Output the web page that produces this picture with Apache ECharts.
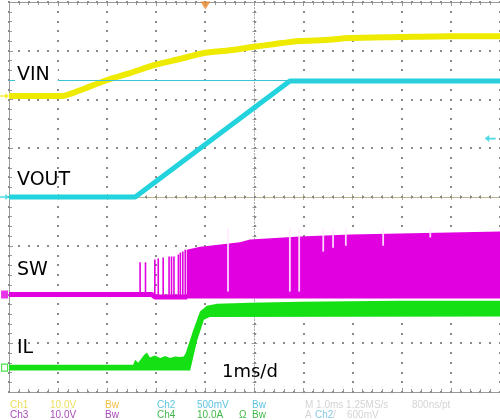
<!DOCTYPE html>
<html>
<head>
<meta charset="utf-8">
<script src="https://cdn.jsdelivr.net/npm/echarts@6/dist/echarts.min.js"></script>
<style>
  html, body { margin: 0; padding: 0; background: #ffffff; }
  #scope { width: 500px; height: 420px; }
</style>
</head>
<body>
<div id="scope"></div>
<script>
// Start-up capture: time in ms relative to the trigger (1 ms/div, screen spans -4 … +6 ms)

// Ch1 – VIN (V)
const vinT = [-4, -2.92, -2.55, -2.0, -1.54, -1.03, -0.52, -0.05, 0.5, 0.91, 1.42, 1.93, 2.43, 2.94, 3.96, 4.98, 6.0];
const vinV = [0, 0, 1.2, 3.3, 4.7, 6.4, 7.6, 8.8, 9.4, 10.0, 10.7, 11.3, 11.5, 11.9, 12.1, 12.3, 12.3];

// Ch2 – VOUT (V)
const voutT = [-4, -1.43, 1.72, 6.0];
const voutV = [0, 0, 1.19, 1.19];
const voutCursor = 1.2;      // horizontal cursor level
const trigLevel = 0.6;       // trigger level, Ch2 rising edge

// Ch3 – SW node (V): idle level, isolated pulses, then continuous switching envelope
const swBaseT = [-4, -1.09, -1.03, -0.37];
const swBaseV = [0, 0, -0.5, -0.5];
const swPulseT = [-1.33, -1.22, -1.03, -0.96, -0.86, -0.74, -0.69, -0.64, -0.55, -0.51, -0.46, -0.41];
const swPulseV = [6.6, 6.6, 7.2, 7.4, 7.6, 7.8, 7.8, 7.8, 8.2, 8.6, 8.8, 9.2];
const swHiT = [-0.38, -0.11, 0.09, 0.7, 0.91, 1.93, 2.95, 3.96, 4.98, 6.0];
const swHiV = [9.2, 9.8, 10.0, 10.7, 11.3, 11.9, 12.3, 12.5, 12.7, 12.9];
const swLoT = [-0.38, 6.0];
const swLoV = [-0.8, -0.8];
// skipped pulses (where the switching stops briefly), lowest level reached
const swSkipT = [0.46, 1.72, 1.91, 2.40, 2.60, 2.86, 3.62, 4.58];
const swSkipV = [0.6, 0.6, 0.6, 8.8, 9.6, 10.0, 10.0, 11.7];

// Ch4 – IL (A): upper and lower envelope of the inductor current
const ilHiT = [-4, -1.47, -1.43, -1.37, -1.25, -1.19, -1.13, -1.03, -0.92, -0.82, -0.72, -0.62, -0.52, -0.44, -0.40, -0.25, -0.11, 0.03, 0.24, 0.91, 1.93, 3.96, 6.0];
const ilHiV = [0.6, 0.6, 1.6, 1.0, 2.6, 3.1, 2.1, 2.5, 2.0, 2.4, 2.0, 2.3, 2.2, 2.3, 3.0, 7.6, 11.5, 12.7, 13.1, 13.3, 13.5, 13.7, 13.7];
const ilLoT = [-4, -0.31, -0.17, -0.03, 0.09, 6.0];
const ilLoV = [-0.6, -0.6, 5.5, 9.8, 10.4, 10.5];

// Vertical settings: units per division and ground offset (divisions from centre)
const chPerDiv = [10, 0.5, 10, 10];
const chGround = [2.07, 0, -2.0, -3.5];

// Graticule: 10 x 8 divisions, 5 subdivisions each
const divX = [-5, -4, -3, -2, -1, 0, 1, 2, 3, 4, 5];
const divY = [-4, -3, -2, -1, 0, 1, 2, 3, 4];
const SUB = 5;

const COL = { ch1: '#eeea00', ch2: '#22d2dc', ch3: '#e000e0', ch4: '#14e014' };
const gridC = '#9a9a9a';
const dotC = '#8a8a8a';
const axisC = '#bdb391';

const zip = (a, b) => a.map((v, i) => [v, b[i]]);
const RECT = { left: 9, top: 2, width: 491, height: 390 };

function chAxis(i) {
  return {
    type: 'value', show: false, gridIndex: 3,
    min: (-4 - chGround[i]) * chPerDiv[i],
    max: (4 - chGround[i]) * chPerDiv[i]
  };
}

function frameAxis(extra) {
  return Object.assign({
    type: 'value', gridIndex: 0,
    axisLabel: { show: false },
    axisLine: { show: true, onZero: false, lineStyle: { color: gridC, width: 1 } },
    axisTick: { show: true, inside: true, length: 4, lineStyle: { color: gridC } },
    minorTick: { show: true, splitNumber: SUB, length: 3, lineStyle: { color: gridC } },
    splitLine: { show: false }
  }, extra);
}

function centreAxis(extra, grid, inside, lineStyle) {
  return Object.assign({
    type: 'value', gridIndex: grid,
    axisLabel: { show: false },
    axisLine: { show: true, onZero: true, lineStyle: lineStyle },
    axisTick: { show: true, inside: inside, length: 3, lineStyle: { color: lineStyle.color } },
    minorTick: { show: true, splitNumber: SUB, length: 2, lineStyle: { color: lineStyle.color } },
    splitLine: { show: false }
  }, extra);
}
const hCentre = { color: axisC, width: 1 };
const vCentre = { color: '#a8a8a8', width: 1, type: [1, 2.25] };

// dotted graticule line: one dot per subdivision along a division line
function graticuleRender(params, api) {
  const vertical = api.value(0) === 0;
  const pos = api.value(1);
  const lo = vertical ? divY[0] : divX[0];
  const hi = vertical ? divY[divY.length - 1] : divX[divX.length - 1];
  const n = Math.round((hi - lo) * SUB);
  const kids = [];
  for (let k = 0; k <= n; k++) {
    const s = lo + k / SUB;
    const p = api.coord(vertical ? [pos, s] : [s, pos]);
    kids.push({ type: 'rect', shape: { x: Math.round(p[0]) - 1, y: Math.round(p[1]) - 1, width: 2, height: 2 },
                style: { fill: dotC } });
  }
  return { type: 'group', children: kids };
}
const graticuleData = divX.map(x => [0, x]).concat(divY.map(y => [1, y]));

// filled envelope drawn as one polygon through the axis scales
function bandRender(hiT, hiV, loT, loV, color) {
  return function (params, api) {
    if (params.dataIndex !== 0) return null;
    const pts = [];
    for (let i = 0; i < hiT.length; i++) pts.push(api.coord([hiT[i], hiV[i]]));
    for (let i = loT.length - 1; i >= 0; i--) pts.push(api.coord([loT[i], loV[i]]));
    return { type: 'polygon', shape: { points: pts }, style: { fill: color } };
  };
}

// vertical stroke from value(2) up to value(1) at time value(0)
function strokeRender(color, width) {
  return function (params, api) {
    const a = api.coord([api.value(0), api.value(2)]);
    const b = api.coord([api.value(0), api.value(1)]);
    return { type: 'line', shape: { x1: a[0], y1: a[1], x2: b[0], y2: b[1] },
             style: { stroke: color, lineWidth: width } };
  };
}

const arrowRight = 'path://M0,3 L7,3 L7,0 L12,4 L7,8 L7,5 L0,5 Z';
const arrowLeft = 'path://M0,4 L5,0 L5,3 L12,3 L12,5 L5,5 L5,8 Z';
const tLeftMark = -4.09;

const option = {
  animation: false,
  grid: [
    Object.assign({}, RECT),   // 0: frame and graticule
    Object.assign({}, RECT),   // 1: centre cross, ticks on one side
    Object.assign({}, RECT),   // 2: centre cross, ticks on other side
    Object.assign({}, RECT)    // 3: channel traces
  ],
  xAxis: [
    frameAxis({ min: -5, max: 5, interval: 1, position: 'bottom' }),
    frameAxis({ min: -5, max: 5, interval: 1, position: 'top' }),
    centreAxis({ min: -5, max: 5, interval: 1, position: 'bottom' }, 1, true, hCentre),
    centreAxis({ min: -5, max: 5, interval: 1, position: 'bottom' }, 2, false, hCentre),
    { type: 'value', gridIndex: 3, min: -4, max: 6, show: false }
  ],
  yAxis: [
    frameAxis({ min: -4, max: 4, interval: 1, position: 'left' }),
    centreAxis({ min: -4, max: 4, interval: 1, position: 'left' }, 1, true, vCentre),
    centreAxis({ min: -4, max: 4, interval: 1, position: 'left' }, 2, false, vCentre),
    chAxis(0), chAxis(1), chAxis(2), chAxis(3),
    { type: 'value', gridIndex: 3, min: -4, max: 4, show: false }
  ],
  series: [
    // graticule dots
    {
      type: 'custom', xAxisIndex: 0, yAxisIndex: 0,
      data: graticuleData, renderItem: graticuleRender
    },
    // Ch2 VOUT
    {
      type: 'line', xAxisIndex: 4, yAxisIndex: 4, data: zip(voutT, voutV),
      symbol: 'none', lineStyle: { color: COL.ch2, width: 5 }, z: 3,
      markLine: {
        silent: true, symbol: 'none', label: { show: false },
        lineStyle: { color: '#3cc4d4', width: 1, type: 'solid' },
        data: [{ yAxis: voutCursor }]
      }
    },
    // Ch1 VIN
    {
      type: 'line', xAxisIndex: 4, yAxisIndex: 3, data: zip(vinT, vinV),
      symbol: 'none', smooth: 0.25,
      lineStyle: { color: COL.ch1, width: 6 }, z: 4
    },
    // Ch3 SW idle level
    {
      type: 'line', xAxisIndex: 4, yAxisIndex: 5, data: zip(swBaseT, swBaseV),
      symbol: 'none', lineStyle: { color: COL.ch3, width: 5 }, z: 5
    },
    // Ch3 isolated pulses
    {
      type: 'custom', xAxisIndex: 4, yAxisIndex: 5, z: 5,
      data: swPulseT.map((t, i) => [t, swPulseV[i], -0.5]),
      renderItem: strokeRender(COL.ch3, 1.6)
    },
    // Ch3 continuous switching
    {
      type: 'custom', xAxisIndex: 4, yAxisIndex: 5, z: 5,
      data: zip(swHiT, swHiV),
      renderItem: bandRender(swHiT, swHiV, swLoT, swLoV, COL.ch3)
    },
    // Ch3 skipped pulses
    {
      type: 'custom', xAxisIndex: 4, yAxisIndex: 5, z: 5,
      data: swSkipT.map((t, i) => [t, 13.5, swSkipV[i]]),
      renderItem: strokeRender('rgba(255,235,255,0.9)', 1.8)
    },
    // Ch4 IL
    {
      type: 'custom', xAxisIndex: 4, yAxisIndex: 6, z: 6,
      data: zip(ilHiT, ilHiV),
      renderItem: bandRender(ilHiT, ilHiV, ilLoT, ilLoV, COL.ch4)
    },
    // ground markers on the left edge
    { type: 'scatter', xAxisIndex: 4, yAxisIndex: 3, clip: false, z: 7, data: [[tLeftMark, 0]],
      symbol: arrowRight, symbolSize: [9, 6], itemStyle: { color: COL.ch1 } },
    { type: 'scatter', xAxisIndex: 4, yAxisIndex: 4, clip: false, z: 7, data: [[tLeftMark, 0]],
      symbol: arrowRight, symbolSize: [9, 6], itemStyle: { color: COL.ch2 } },
    { type: 'scatter', xAxisIndex: 4, yAxisIndex: 5, clip: false, z: 7, data: [[tLeftMark, 0]],
      symbol: 'rect', symbolSize: [7, 8], itemStyle: { color: COL.ch3 } },
    { type: 'scatter', xAxisIndex: 4, yAxisIndex: 6, clip: false, z: 7, data: [[tLeftMark, 0]],
      symbol: 'rect', symbolSize: [6, 7], itemStyle: { color: '#ffffff', borderColor: COL.ch4, borderWidth: 1.2 } },
    // trigger level arrow (Ch2)
    { type: 'scatter', xAxisIndex: 4, yAxisIndex: 4, clip: false, z: 7, data: [[5.8, trigLevel]],
      symbol: arrowLeft, symbolSize: [11, 7], itemStyle: { color: COL.ch2 } },
    // trigger position
    { type: 'scatter', xAxisIndex: 4, yAxisIndex: 7, clip: false, z: 7, data: [[0, 3.93]],
      symbol: 'triangle', symbolRotate: 180, symbolSize: [10, 8], itemStyle: { color: '#e8882a' } }
  ],
  graphic: [
    { type: 'text', x: 15, y: 75, z: 20, style: { text: 'VIN', font: '19px "DejaVu Sans"', fill: '#000', verticalAlign: 'middle', backgroundColor: '#ffffff', padding: [2, 8, 2, 2] } },
    { type: 'text', x: 17, y: 180, z: 20, style: { text: 'VOUT', font: '19px "DejaVu Sans"', fill: '#000', verticalAlign: 'middle' } },
    { type: 'text', x: 17, y: 270, z: 20, style: { text: 'SW', font: '19px "DejaVu Sans"', fill: '#000', verticalAlign: 'middle' } },
    { type: 'text', x: 17, y: 348, z: 20, style: { text: 'IL', font: '19px "DejaVu Sans"', fill: '#000', verticalAlign: 'middle' } },
    { type: 'text', x: 222, y: 372, z: 20, style: { text: '1ms/d', font: '18px "DejaVu Sans"', fill: '#000', verticalAlign: 'middle' } },

    { type: 'text', x: 10, y: 405, style: { text: 'Ch1', font: '10px "Liberation Sans"', fill: '#ece060', verticalAlign: 'middle' } },
    { type: 'text', x: 50, y: 405, style: { text: '10.0V', font: '10px "Liberation Sans"', fill: '#ece060', verticalAlign: 'middle' } },
    { type: 'text', x: 105, y: 405, style: { text: 'Bw', font: '10px "Liberation Sans"', fill: '#f0c040', verticalAlign: 'middle' } },
    { type: 'text', x: 157, y: 405, style: { text: 'Ch2', font: '10px "Liberation Sans"', fill: '#60c4e0', verticalAlign: 'middle' } },
    { type: 'text', x: 197, y: 405, style: { text: '500mV', font: '10px "Liberation Sans"', fill: '#60c4e0', verticalAlign: 'middle' } },
    { type: 'text', x: 252, y: 405, style: { text: 'Bw', font: '10px "Liberation Sans"', fill: '#60c4e0', verticalAlign: 'middle' } },
    { type: 'text', x: 305, y: 405, style: { text: 'M 1.0ms 1.25MS/s', font: '10px "Liberation Sans"', fill: '#d4d4d4', verticalAlign: 'middle' } },
    { type: 'text', x: 412, y: 405, style: { text: '800ns/pt', font: '10px "Liberation Sans"', fill: '#d4d4d4', verticalAlign: 'middle' } },

    { type: 'text', x: 10, y: 415, style: { text: 'Ch3', font: '10px "Liberation Sans"', fill: '#a84cb8', verticalAlign: 'middle' } },
    { type: 'text', x: 50, y: 415, style: { text: '10.0V', font: '10px "Liberation Sans"', fill: '#a84cb8', verticalAlign: 'middle' } },
    { type: 'text', x: 105, y: 415, style: { text: 'Bw', font: '10px "Liberation Sans"', fill: '#a84cb8', verticalAlign: 'middle' } },
    { type: 'text', x: 157, y: 415, style: { text: 'Ch4', font: '10px "Liberation Sans"', fill: '#40b848', verticalAlign: 'middle' } },
    { type: 'text', x: 197, y: 415, style: { text: '10.0A', font: '10px "Liberation Sans"', fill: '#40b848', verticalAlign: 'middle' } },
    { type: 'text', x: 239, y: 415, style: { text: 'Ω', font: '10px "Liberation Sans"', fill: '#40b848', verticalAlign: 'middle' } },
    { type: 'text', x: 252, y: 415, style: { text: 'Bw', font: '10px "Liberation Sans"', fill: '#40b848', verticalAlign: 'middle' } },
    { type: 'text', x: 305, y: 415, style: { text: 'A', font: '10px "Liberation Sans"', fill: '#d4d4d4', verticalAlign: 'middle' } },
    { type: 'text', x: 315, y: 415, style: { text: 'Ch2', font: '10px "Liberation Sans"', fill: '#88c8e4', verticalAlign: 'middle' } },
    { type: 'text', x: 333, y: 415, style: { text: '/', font: '10px "Liberation Sans"', fill: '#d4d4d4', verticalAlign: 'middle' } },
    { type: 'text', x: 347, y: 415, style: { text: '600mV', font: '10px "Liberation Sans"', fill: '#d4d4d4', verticalAlign: 'middle' } }
  ]
};

const chart = echarts.init(document.getElementById('scope'), null, { renderer: 'canvas' });
chart.setOption(option);
</script>
</body>
</html>
